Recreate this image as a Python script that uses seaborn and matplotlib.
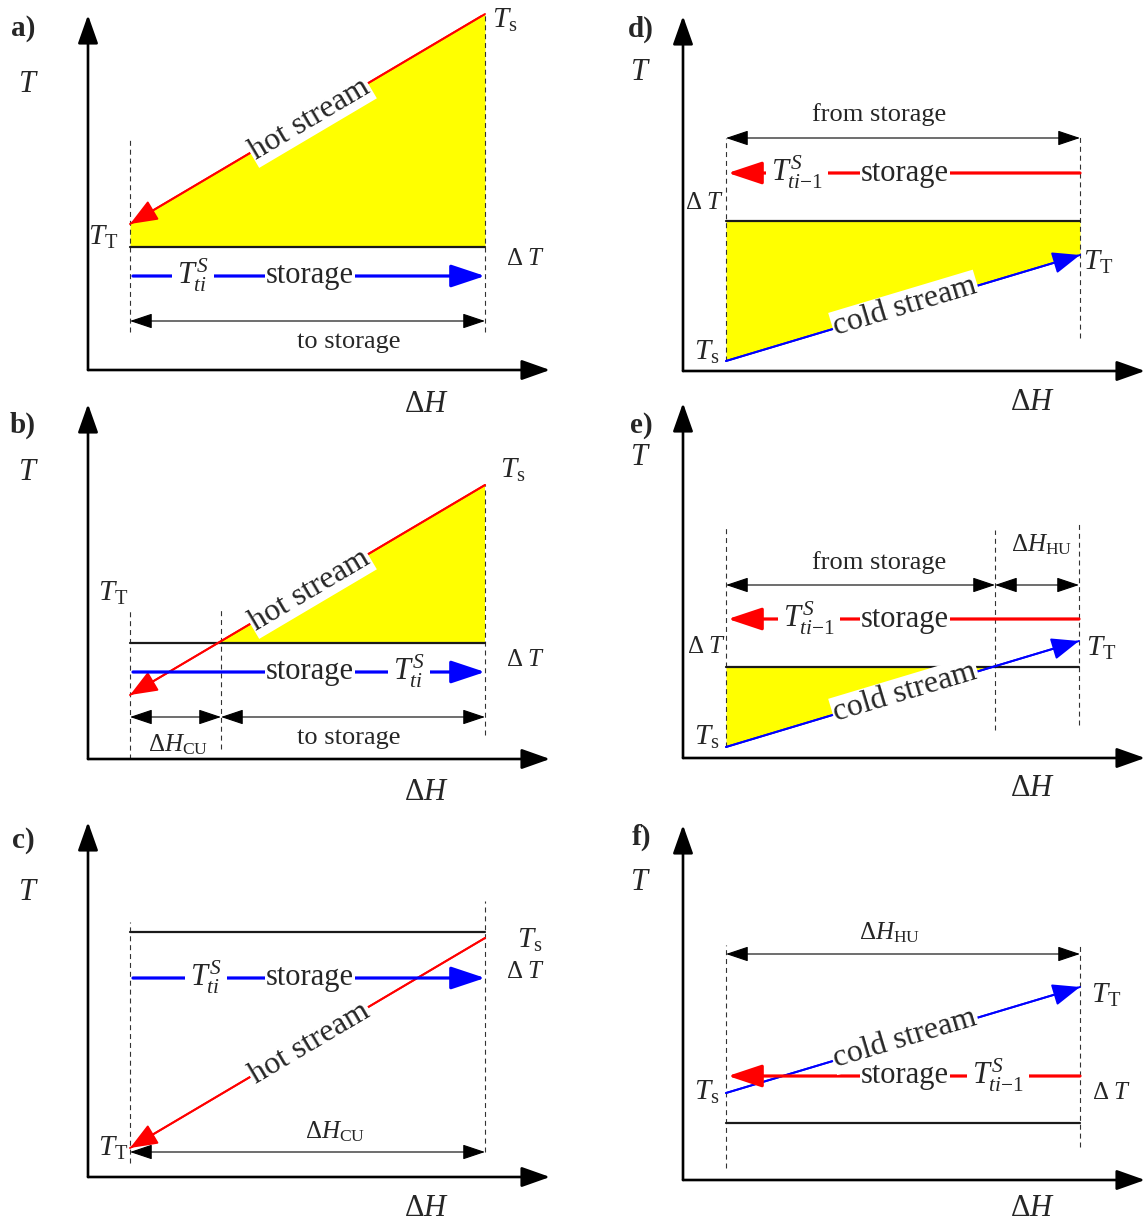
import numpy as np
import matplotlib
matplotlib.use("Agg")
import matplotlib.pyplot as plt
import seaborn as sns

# ---------------------------------------------------------------------------
# Schematic data.  Each panel uses its own ΔH / T drawing units, measured
# from the corner where the ΔH and T axes meet.
# ---------------------------------------------------------------------------
# a) hot stream entirely above the storage band -> all heat to storage
a_span = [42, 397]
a_hot_H = [397, 42]
a_hot_T = [356, 146]
a_dT_level = 123
a_store_T = 94
a_dim_T = 49

# b) hot stream crosses the band -> part to storage, rest to cold utility
b_span = [42, 133, 397]
b_hot_H = [397, 42]
b_hot_T = [274, 64]
b_dT_level = 116
b_store_T = 87
b_dim_T = 42

# c) hot stream entirely below the band -> cold utility only
c_span = [42, 397]
c_hot_H = [397, 42]
c_hot_T = [239, 29]
c_dT_level = 245
c_store_T = 199
c_dim_T = 25

# d) cold stream entirely below the band -> all heat from storage
d_span = [43, 397]
d_cold_H = [43, 397]
d_cold_T = [10, 116]
d_dT_level = 150
d_store_T = 198
d_dim_T = 233

# e) cold stream crosses the band -> storage, then hot utility
e_span = [43, 312, 396]
e_cold_H = [43, 396]
e_cold_T = [11, 117]
e_dT_level = 91
e_store_T = 139
e_dim_T = 173

# f) cold stream entirely above the band -> hot utility only
f_span = [43, 397]
f_cold_H = [43, 397]
f_cold_T = [87, 193]
f_dT_level = 57
f_store_T = 104
f_dim_T = 226

RED = "#ff0000"
BLUE = "#0000ff"
YELLOW = "#ffff00"
DARK = "#1a1a1a"

sns.set_theme(style="white")
plt.rcParams["font.family"] = ["Liberation Serif", "DejaVu Serif"]
plt.rcParams["mathtext.fontset"] = "custom"
plt.rcParams["mathtext.rm"] = "Liberation Serif"
plt.rcParams["mathtext.it"] = "Liberation Serif:italic"
plt.rcParams["mathtext.bf"] = "Liberation Serif:bold"

FW, FH = 1146, 1225
fig = plt.figure(figsize=(FW / 100, FH / 100), dpi=100)
fig.patch.set_facecolor("white")

AX_W, AX_H = 462, 355


def make_axes(ox, oy):
    ax = fig.add_axes([ox / FW, (FH - oy) / FH, AX_W / FW, AX_H / FH])
    ax.set_xlim(0, AX_W)
    ax.set_ylim(0, AX_H)
    ax.axis("off")
    head = "-|>,head_length=1.75,head_width=0.62"
    for tip in [(AX_W, 0), (0, AX_H)]:
        ax.annotate("", xy=tip, xytext=(0, 0), annotation_clip=False,
                    arrowprops=dict(arrowstyle=head, mutation_scale=10,
                                    color="black", lw=1.9,
                                    shrinkA=0, shrinkB=0))
    return ax


def label(ax, h, t, s, size, **kw):
    kw.setdefault("ha", "center")
    kw.setdefault("va", "center")
    return ax.text(h, t, s, fontsize=size, clip_on=False, **kw)


def dashed(ax, h, t0, t1):
    ax.plot([h, h], [t0, t1], color="#333333", lw=0.8,
            ls=(0, (4.5, 3.5)), clip_on=False, zorder=2)


def level_line(ax, span, t):
    sns.lineplot(x=[span[0], span[-1]], y=[t, t], ax=ax, color=DARK,
                 lw=1.6, zorder=2)


def stream(ax, H, T, color, text, offset=0.0):
    sns.lineplot(x=H, y=T, ax=ax, color=color, lw=1.4, sort=False,
                 zorder=3)
    ax.annotate("", xy=(H[-1], T[-1]), xytext=(H[0], T[0]),
                arrowprops=dict(arrowstyle="-|>,head_length=1.7,head_width=0.68",
                                mutation_scale=10, color=color, lw=1.4,
                                shrinkA=0, shrinkB=0), zorder=3)
    hs = np.array(H, float)
    ts = np.array(T, float)
    order = np.argsort(hs)
    hc = 222
    tc = np.interp(hc, hs[order], ts[order]) + offset
    ang = np.degrees(np.arctan2(ts[order][-1] - ts[order][0],
                                hs[order][-1] - hs[order][0]))
    label(ax, hc, tc, text, 23, rotation=ang, rotation_mode="anchor",
          bbox=dict(facecolor="white", edgecolor="none", pad=1.0), zorder=6)


def storage(ax, h_from, h_to, t, color, sym_h, sym, word_h=222):
    ax.annotate("", xy=(h_to, t), xytext=(h_from, t),
                arrowprops=dict(arrowstyle="-|>,head_length=2.1,head_width=0.7",
                                mutation_scale=10, color=color, lw=2.3,
                                shrinkA=0, shrinkB=0), zorder=4)
    label(ax, word_h, t, "storage", 22,
          bbox=dict(facecolor="white", edgecolor="none", pad=0.6), zorder=5)
    label(ax, sym_h, t + 1, sym, 22,
          bbox=dict(facecolor="white", edgecolor="none", pad=3.5), zorder=5)


def dim(ax, h0, h1, t):
    ax.annotate("", xy=(h1, t), xytext=(h0, t),
                arrowprops=dict(arrowstyle="<|-|>,head_length=1.4,head_width=0.47",
                                mutation_scale=10, color="black", lw=0.8,
                                shrinkA=0, shrinkB=0), zorder=4)


def axis_labels(ax, letter, lh, lt, th, tt, hh, ht):
    label(ax, lh, lt, letter, 21, fontweight="bold")
    label(ax, th, tt, r"$T$", 22)
    label(ax, hh, ht, r"$\Delta H$", 22)


DT = r"$\Delta\;T$"
T_NOW = r"$T_{ti}^{S}$"
T_PREV = r"$T_{ti\mathrm{\u2212 1}}^{S}$".replace("\\u2212 ", "\u2212")

# ---------------------------------------------------------------- panel a
ax = make_axes(88, 370)
axis_labels(ax, "a)", -65, 341, -60, 285, 339, -35)
ax.fill_between(a_span, [a_dT_level] * 2, a_hot_T[::-1], color=YELLOW,
                lw=0, zorder=1)
dashed(ax, a_span[0], 38, 231)
dashed(ax, a_span[1], 38, a_hot_T[0])
level_line(ax, a_span, a_dT_level)
stream(ax, a_hot_H, a_hot_T, RED, "hot stream", offset=-2)
storage(ax, a_span[0] + 3, a_span[1], a_store_T, BLUE, 105, T_NOW)
dim(ax, a_span[0], a_span[1], a_dim_T)
label(ax, 261, 28, "to storage", 19)
label(ax, 417, 350, r"$T_{\mathrm{s}}$", 21)
label(ax, 15, 133, r"$T_{\mathrm{T}}$", 21)
label(ax, 437, 111, DT, 18)

# ---------------------------------------------------------------- panel b
ax = make_axes(88, 759)
axis_labels(ax, "b)", -65, 334, -60, 286, 339, -34)
b_fill_H = [b_hot_H[1], b_hot_H[0]]
b_fill_T = [b_hot_T[1], b_hot_T[0]]
ax.fill_between(b_fill_H, [b_dT_level] * 2, b_fill_T,
                where=[t > b_dT_level for t in b_fill_T], interpolate=True,
                color=YELLOW, lw=0, zorder=1)
dashed(ax, b_span[0], 0, 149)
dashed(ax, b_span[1], 10, 149)
dashed(ax, b_span[2], 24, b_hot_T[0])
level_line(ax, b_span, b_dT_level)
stream(ax, b_hot_H, b_hot_T, RED, "hot stream", offset=-2)
storage(ax, b_span[0] + 3, b_span[2], b_store_T, BLUE, 321, T_NOW)
dim(ax, b_span[0], b_span[1], b_dim_T)
dim(ax, b_span[1], b_span[2], b_dim_T)
label(ax, 90, 14, r"$\Delta H_{\mathrm{CU}}$", 18)
label(ax, 261, 21, "to storage", 19)
label(ax, 425, 289, r"$T_{\mathrm{s}}$", 21)
label(ax, 25, 166, r"$T_{\mathrm{T}}$", 21)
label(ax, 437, 99, DT, 18)

# ---------------------------------------------------------------- panel c
ax = make_axes(88, 1177)
axis_labels(ax, "c)", -65, 337, -60, 285, 339, -31)
dashed(ax, c_span[0], 14, 255)
dashed(ax, c_span[1], 25, 276)
level_line(ax, c_span, c_dT_level)
stream(ax, c_hot_H, c_hot_T, RED, "hot stream", offset=-2)
storage(ax, c_span[0] + 3, c_span[1], c_store_T, BLUE, 118, T_NOW)
dim(ax, c_span[0], c_span[1], c_dim_T)
label(ax, 247, 45, r"$\Delta H_{\mathrm{CU}}$", 18)
label(ax, 442, 237, r"$T_{\mathrm{s}}$", 21)
label(ax, 437, 205, DT, 18)
label(ax, 25, 29, r"$T_{\mathrm{T}}$", 21)

# ---------------------------------------------------------------- panel d
ax = make_axes(683, 371)
axis_labels(ax, "d)", -42, 342, -43, 298, 350, -32)
ax.fill_between(d_cold_H, d_cold_T, [d_dT_level] * 2, color=YELLOW,
                lw=0, zorder=1)
dashed(ax, d_span[0], d_cold_T[0], d_dim_T)
dashed(ax, d_span[1], 33, 236)
level_line(ax, d_span, d_dT_level)
stream(ax, d_cold_H, d_cold_T, BLUE, "cold stream", offset=1)
storage(ax, d_span[1], d_span[0] + 2, d_store_T, RED, 114, T_PREV)
dim(ax, d_span[0], d_span[1], d_dim_T)
label(ax, 196, 256, "from storage", 19)
label(ax, 21, 168, DT, 18)
label(ax, 415, 109, r"$T_{\mathrm{T}}$", 21)
label(ax, 24, 19, r"$T_{\mathrm{s}}$", 21)

# ---------------------------------------------------------------- panel e
ax = make_axes(683, 758)
axis_labels(ax, "e)", -42, 332, -43, 300, 350, -30)
ax.fill_between(e_cold_H, e_cold_T, [e_dT_level] * 2,
                where=[t < e_dT_level for t in e_cold_T], interpolate=True,
                color=YELLOW, lw=0, zorder=1)
dashed(ax, e_span[0], e_cold_T[0], 233)
dashed(ax, e_span[1], 28, 228)
dashed(ax, e_span[2], 33, 236)
level_line(ax, e_span, e_dT_level)
stream(ax, e_cold_H, e_cold_T, BLUE, "cold stream", offset=1)
storage(ax, e_span[2], e_span[0] + 2, e_store_T, RED, 126, T_PREV)
dim(ax, e_span[0], e_span[1], e_dim_T)
dim(ax, e_span[1], e_span[2], e_dim_T)
label(ax, 196, 195, "from storage", 19)
label(ax, 359, 213, r"$\Delta H_{\mathrm{HU}}$", 18)
label(ax, 23, 111, DT, 18)
label(ax, 418, 110, r"$T_{\mathrm{T}}$", 21)
label(ax, 24, 21, r"$T_{\mathrm{s}}$", 21)

# ---------------------------------------------------------------- panel f
ax = make_axes(683, 1180)
axis_labels(ax, "f)", -42, 343, -43, 298, 350, -29)
dashed(ax, f_span[0], 12, 235)
dashed(ax, f_span[1], 33, 237)
level_line(ax, f_span, f_dT_level)
storage(ax, f_span[1], f_span[0] + 2, f_store_T, RED, 315, T_PREV)
stream(ax, f_cold_H, f_cold_T, BLUE, "cold stream", offset=1)
dim(ax, f_span[0], f_span[1], f_dim_T)
label(ax, 207, 247, r"$\Delta H_{\mathrm{HU}}$", 18)
label(ax, 423, 185, r"$T_{\mathrm{T}}$", 21)
label(ax, 24, 88, r"$T_{\mathrm{s}}$", 21)
label(ax, 428, 87, DT, 18)

fig.savefig("out.png", dpi=100, facecolor="white")
